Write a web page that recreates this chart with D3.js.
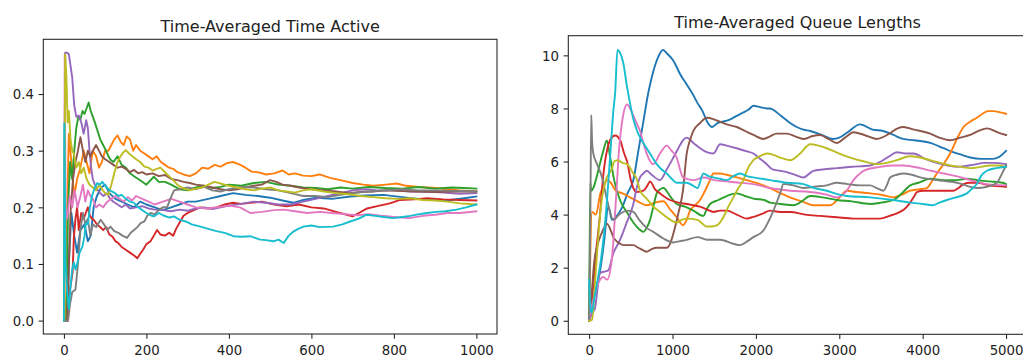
<!DOCTYPE html>
<html>
<head>
<meta charset="utf-8">
<script src="https://cdn.jsdelivr.net/npm/d3@7"></script>
<style>
  body { margin: 0; background: #fff; }
  svg { display: block; font-family: "DejaVu Sans", sans-serif; }
</style>
</head>
<body>
<svg id="chart" width="1023" height="356"></svg>
<script>
// tab10 colours, in series order
const colors = ["#1f77b4", "#ff7f0e", "#2ca02c", "#d62728", "#9467bd",
                "#8c564b", "#e377c2", "#7f7f7f", "#bcbd22", "#17becf"];

// ---- left panel: time-averaged time active, [t, value] ----
const activeBlue = [[0,0],[8,0],[12,0.1],[18,0.19],[25,0.15],[32,0.12],[40,0.16],[50,0.17],[58,0.14],[65,0.15],[72,0.2],[80,0.22],[90,0.235],[100,0.24],[110,0.225],[125,0.215],[140,0.21],[155,0.205],[170,0.2],[185,0.21],[200,0.205],[220,0.2],[240,0.195],[260,0.2],[280,0.205],[300,0.21],[320,0.21],[350,0.215],[380,0.22],[410,0.225],[440,0.222],[470,0.22],[500,0.217],[530,0.212],[556,0.208],[580,0.213],[612,0.217],[650,0.215],[694,0.219],[730,0.221],[775,0.222],[820,0.218],[860,0.215],[900,0.213],[936,0.213],[970,0.216],[1000,0.219]];
const activeOrange = [[0,0],[5,0],[8,0.2],[12,0.33],[18,0.28],[25,0.22],[32,0.25],[40,0.27],[48,0.3],[55,0.28],[62,0.26],[70,0.3],[78,0.29],[85,0.27],[92,0.28],[100,0.3],[108,0.3],[115,0.31],[122,0.32],[130,0.327],[138,0.315],[145,0.31],[152,0.325],[160,0.32],[168,0.3],[175,0.31],[185,0.3],[195,0.295],[205,0.29],[215,0.285],[225,0.29],[235,0.28],[245,0.275],[255,0.27],[265,0.268],[275,0.262],[290,0.258],[305,0.255],[320,0.26],[335,0.27],[350,0.268],[365,0.275],[380,0.272],[395,0.278],[410,0.28],[425,0.276],[440,0.27],[455,0.263],[470,0.262],[490,0.258],[510,0.26],[530,0.265],[545,0.258],[560,0.26],[580,0.256],[600,0.255],[620,0.258],[645,0.252],[670,0.248],[700,0.243],[726,0.24],[750,0.238],[780,0.24],[807,0.242],[830,0.238],[860,0.236],[903,0.234],[930,0.232],[960,0.23],[1000,0.228]];
const activeGreen = [[0,0],[6,0],[10,0.2],[15,0.28],[20,0.25],[25,0.3],[30,0.34],[35,0.36],[40,0.355],[45,0.37],[50,0.365],[55,0.375],[60,0.385],[65,0.37],[70,0.36],[75,0.35],[81,0.336],[88,0.32],[95,0.31],[102,0.3],[108,0.29],[113,0.284],[120,0.28],[130,0.29],[140,0.275],[150,0.27],[160,0.26],[170,0.255],[180,0.25],[190,0.245],[200,0.24],[218,0.254],[230,0.245],[245,0.245],[260,0.24],[280,0.232],[300,0.23],[320,0.235],[340,0.238],[360,0.234],[380,0.236],[400,0.24],[430,0.238],[460,0.243],[490,0.245],[520,0.24],[550,0.238],[580,0.235],[610,0.234],[640,0.232],[670,0.235],[700,0.233],[740,0.236],[780,0.234],[820,0.233],[860,0.236],[900,0.233],[940,0.235],[970,0.234],[1000,0.233]];
const activeRed = [[0,0],[10,0],[12,0.043],[18,0.07],[21,0.085],[24,0.146],[28,0.18],[32,0.2],[36,0.16],[42,0.19],[48,0.18],[53,0.19],[58,0.2],[63,0.185],[68,0.18],[72,0.178],[80,0.17],[88,0.165],[95,0.16],[103,0.165],[110,0.152],[118,0.148],[125,0.14],[130,0.138],[140,0.13],[150,0.125],[160,0.12],[170,0.115],[178,0.11],[185,0.118],[192,0.125],[200,0.135],[210,0.14],[218,0.15],[226,0.16],[234,0.152],[245,0.15],[255,0.155],[265,0.15],[272,0.162],[282,0.175],[290,0.185],[300,0.19],[315,0.195],[330,0.2],[350,0.198],[370,0.2],[390,0.205],[410,0.208],[430,0.206],[452,0.208],[480,0.21],[510,0.205],[540,0.202],[570,0.205],[600,0.2],[630,0.198],[660,0.192],[690,0.186],[700,0.184],[715,0.19],[735,0.198],[760,0.202],[790,0.207],[815,0.213],[850,0.214],[880,0.216],[920,0.214],[960,0.213],[1000,0.212]];
const activePurple = [[0,0],[3,0.473],[8,0.473],[12,0.47],[16,0.45],[20,0.43],[25,0.38],[30,0.36],[36,0.362],[42,0.35],[48,0.33],[54,0.354],[58,0.34],[62,0.3],[66,0.27],[70,0.25],[75,0.24],[80,0.232],[88,0.225],[96,0.22],[104,0.225],[112,0.215],[120,0.21],[130,0.205],[140,0.2],[150,0.205],[160,0.198],[175,0.2],[190,0.202],[205,0.198],[220,0.196],[240,0.195],[260,0.193],[280,0.196],[300,0.194],[320,0.198],[340,0.2],[360,0.197],[380,0.2],[400,0.203],[430,0.206],[460,0.21],[490,0.208],[520,0.205],[550,0.205],[580,0.21],[610,0.215],[640,0.22],[670,0.225],[700,0.23],[730,0.232],[760,0.23],[800,0.23],[840,0.228],[880,0.228],[920,0.226],[960,0.224],[1000,0.225]];
const activeBrown = [[0,0],[8,0],[12,0.1],[16,0.19],[22,0.25],[28,0.28],[34,0.3],[40,0.324],[46,0.3],[52,0.28],[58,0.3],[64,0.29],[70,0.3],[78,0.31],[85,0.3],[92,0.29],[100,0.285],[110,0.28],[120,0.275],[130,0.27],[140,0.272],[150,0.268],[160,0.262],[170,0.266],[180,0.26],[190,0.262],[200,0.258],[215,0.26],[230,0.255],[245,0.257],[260,0.25],[275,0.248],[290,0.245],[305,0.243],[320,0.24],[340,0.238],[360,0.235],[380,0.232],[400,0.23],[420,0.232],[440,0.235],[460,0.238],[480,0.24],[500,0.248],[515,0.245],[530,0.24],[550,0.238],[570,0.235],[600,0.232],[630,0.23],[660,0.228],[690,0.225],[720,0.227],[750,0.228],[780,0.23],[810,0.229],[850,0.228],[900,0.227],[950,0.228],[1000,0.228]];
const activePink = [[0,0],[2,0.47],[4,0.2],[8,0.18],[14,0.22],[20,0.2],[26,0.23],[33,0.2],[40,0.22],[46,0.24],[52,0.21],[58,0.23],[64,0.22],[70,0.215],[78,0.2],[86,0.205],[95,0.2],[105,0.21],[115,0.215],[125,0.22],[135,0.215],[145,0.21],[155,0.218],[165,0.212],[175,0.22],[190,0.215],[205,0.21],[220,0.205],[240,0.21],[260,0.215],[280,0.21],[300,0.205],[320,0.2],[345,0.198],[370,0.2],[400,0.203],[427,0.2],[452,0.19],[480,0.192],[510,0.195],[533,0.196],[560,0.193],[590,0.19],[620,0.192],[650,0.19],[680,0.188],[710,0.186],[740,0.188],[770,0.185],[800,0.183],[838,0.181],[870,0.185],[900,0.187],[930,0.19],[960,0.19],[1000,0.193]];
const activeGray = [[0,0],[10,0],[15,0.03],[20,0.05],[28,0.055],[34,0.1],[40,0.16],[46,0.19],[52,0.17],[58,0.18],[64,0.15],[70,0.17],[78,0.165],[89,0.178],[97,0.17],[105,0.16],[113,0.166],[122,0.158],[132,0.155],[142,0.15],[153,0.146],[162,0.155],[170,0.16],[178,0.165],[186,0.172],[195,0.175],[202,0.185],[210,0.19],[220,0.188],[230,0.195],[240,0.2],[250,0.2],[258,0.215],[267,0.23],[280,0.232],[300,0.235],[320,0.232],[340,0.236],[360,0.23],[380,0.228],[400,0.232],[430,0.236],[460,0.235],[490,0.232],[520,0.23],[550,0.225],[580,0.22],[610,0.22],[640,0.218],[670,0.222],[700,0.225],[740,0.228],[780,0.23],[820,0.232],[860,0.23],[900,0.23],[950,0.229],[1000,0.228]];
const activeOlive = [[0,0],[3,0.47],[6,0.43],[9,0.35],[12,0.37],[16,0.32],[20,0.3],[24,0.295],[30,0.27],[36,0.28],[42,0.26],[48,0.27],[55,0.25],[62,0.24],[70,0.235],[78,0.23],[86,0.24],[94,0.23],[100,0.225],[108,0.222],[115,0.24],[122,0.26],[130,0.28],[137,0.29],[144,0.297],[150,0.301],[158,0.295],[166,0.29],[175,0.285],[185,0.28],[195,0.272],[205,0.27],[215,0.265],[225,0.268],[234,0.27],[245,0.262],[255,0.255],[265,0.248],[275,0.24],[285,0.235],[295,0.232],[305,0.23],[320,0.233],[335,0.235],[350,0.24],[365,0.245],[380,0.242],[400,0.238],[420,0.235],[440,0.232],[460,0.23],[480,0.233],[500,0.235],[520,0.23],[540,0.228],[560,0.226],[580,0.23],[600,0.232],[630,0.228],[660,0.225],[690,0.223],[720,0.22],[750,0.218],[780,0.216],[810,0.215],[840,0.216],[870,0.213],[900,0.212],[930,0.21],[960,0.207],[1000,0.205]];
const activeCyan = [[0,0],[1,0.348],[4,0.1],[8,0.05],[12,0.02],[16,0.06],[20,0.09],[24,0.103],[28,0.09],[33,0.103],[38,0.12],[45,0.131],[50,0.15],[53,0.172],[58,0.17],[63,0.2],[68,0.22],[75,0.235],[81,0.243],[87,0.24],[93,0.245],[100,0.238],[108,0.232],[116,0.228],[124,0.225],[132,0.22],[140,0.222],[150,0.215],[160,0.21],[170,0.208],[180,0.2],[190,0.195],[200,0.19],[210,0.186],[218,0.184],[230,0.19],[240,0.186],[255,0.182],[267,0.184],[280,0.178],[295,0.175],[310,0.17],[331,0.166],[350,0.162],[370,0.158],[390,0.155],[411,0.149],[430,0.148],[452,0.149],[476,0.143],[490,0.142],[508,0.14],[520,0.143],[533,0.137],[545,0.15],[556,0.157],[568,0.162],[581,0.166],[600,0.168],[620,0.165],[653,0.166],[675,0.17],[694,0.175],[715,0.18],[734,0.187],[755,0.185],[775,0.183],[798,0.181],[820,0.183],[840,0.185],[855,0.187],[880,0.19],[903,0.192],[925,0.193],[952,0.196],[975,0.2],[1000,0.205]];

// ---- right panel: time-averaged queue lengths, [t, value] ----
const queueBlue = [[0,0],[40,0.8],[80,1.2],[132,1.9],[180,3.0],[230,4.3],[275,3.8],[320,3.9],[400,4.3],[460,4.8],[530,5.3],[590,6.4],[650,7.5],[710,8.6],[770,9.4],[830,9.95],[885,10.2],[940,10.05],[1010,9.8],[1090,9.3],[1170,8.9],[1240,8.55],[1300,8.2],[1360,7.9],[1415,7.5],[1475,7.3],[1540,7.45],[1600,7.5],[1660,7.55],[1730,7.65],[1790,7.75],[1850,7.85],[1910,7.95],[1970,8.1],[2050,8.05],[2130,8.0],[2170,8.0],[2250,7.85],[2330,7.65],[2410,7.45],[2490,7.3],[2570,7.2],[2650,7.15],[2790,7.0],[2925,6.85],[3000,6.9],[3100,7.1],[3250,7.4],[3300,7.35],[3400,7.2],[3525,7.15],[3650,7.0],[3765,6.85],[3900,6.8],[4090,6.7],[4250,6.5],[4365,6.35],[4470,6.25],[4570,6.15],[4700,6.1],[4845,6.1],[4930,6.2],[5000,6.4]];
const queueOrange = [[0,0],[35,4.1],[80,4.0],[135,4.8],[180,5.1],[215,5.3],[260,5.2],[320,4.9],[400,4.8],[490,4.65],[580,4.5],[690,4.35],[790,4.45],[890,4.5],[970,4.2],[1050,3.9],[1125,3.6],[1170,3.8],[1210,4.15],[1270,4.35],[1330,4.55],[1390,4.9],[1450,5.3],[1490,5.55],[1570,5.55],[1650,5.5],[1770,5.4],[1890,5.3],[2050,5.15],[2200,4.95],[2300,4.8],[2410,4.65],[2550,4.5],[2690,4.35],[2800,4.35],[2890,4.35],[2990,4.6],[3090,4.9],[3200,4.85],[3370,4.8],[3500,4.75],[3650,4.65],[3750,4.75],[3850,4.9],[3950,4.95],[4050,5.0],[4120,5.3],[4170,5.55],[4250,5.9],[4330,6.3],[4410,6.85],[4490,7.3],[4570,7.5],[4650,7.65],[4720,7.8],[4780,7.9],[4850,7.9],[4930,7.85],[5000,7.8]];
const queueGreen = [[0,0],[12,5.2],[25,4.9],[50,5.0],[80,5.3],[120,5.8],[170,6.4],[213,6.79],[250,6.2],[300,5.3],[370,4.55],[450,4.1],[530,3.7],[600,3.45],[650,3.35],[690,3.5],[730,3.8],[770,4.3],[810,4.8],[850,4.95],[890,5.0],[970,4.7],[1050,4.4],[1150,4.3],[1250,4.15],[1370,3.95],[1410,4.2],[1450,4.4],[1550,4.55],[1650,4.7],[1770,4.8],[1870,4.7],[1970,4.6],[2100,4.55],[2170,4.45],[2300,4.4],[2450,4.35],[2550,4.5],[2650,4.7],[2800,4.65],[2970,4.55],[3150,4.5],[3370,4.4],[3500,4.45],[3650,4.55],[3750,4.8],[3850,5.1],[3950,5.2],[4090,5.35],[4250,5.3],[4410,5.3],[4530,5.35],[4650,5.3],[4800,5.25],[4960,5.2],[5000,5.15]];
const queueRed = [[0,0],[40,1.0],[80,2.5],[130,4.0],[170,5.5],[220,6.5],[270,6.9],[312,6.98],[372,6.8],[420,6.3],[455,6.0],[500,5.3],[530,5.0],[570,4.85],[650,4.9],[700,5.1],[730,5.25],[790,4.95],[850,4.8],[970,4.55],[1070,4.45],[1170,4.4],[1250,4.35],[1330,4.3],[1410,4.2],[1490,4.1],[1570,4.15],[1650,4.15],[1770,4.0],[1890,3.85],[1950,3.9],[2010,3.95],[2090,4.05],[2170,4.15],[2290,4.1],[2410,4.1],[2590,4.0],[2770,3.95],[2970,3.9],[3170,3.85],[3350,3.85],[3490,3.85],[3600,3.95],[3690,4.05],[3780,4.2],[3850,4.45],[3900,4.7],[3930,4.85],[4010,4.9],[4090,4.9],[4250,4.9],[4370,4.9],[4430,5.0],[4490,5.15],[4570,5.2],[4650,5.2],[4800,5.1],[5000,5.05]];
const queuePurple = [[0,0],[40,0.3],[72,0.5],[100,1.2],[130,1.8],[180,1.85],[230,1.9],[290,2.55],[330,2.8],[370,3.05],[450,3.7],[530,4.4],[570,5.0],[610,5.4],[650,5.55],[690,5.65],[750,5.5],[850,5.3],[930,5.7],[1010,6.15],[1070,6.5],[1125,6.8],[1170,6.9],[1250,6.7],[1330,6.5],[1410,6.35],[1490,6.3],[1570,6.65],[1650,6.6],[1770,6.5],[1870,6.4],[1970,6.3],[2050,6.1],[2130,5.9],[2200,5.7],[2290,5.65],[2370,5.6],[2470,5.5],[2570,5.4],[2690,5.65],[2800,5.7],[2970,5.75],[3150,5.8],[3370,5.85],[3500,6.0],[3600,6.2],[3690,6.35],[3800,6.3],[3890,6.3],[4030,6.1],[4170,5.95],[4300,5.85],[4410,5.8],[4550,5.85],[4650,5.9],[4730,5.95],[4850,5.95],[5000,5.9]];
const queueBrown = [[0,0],[30,1.0],[60,2.2],[95,2.8],[150,3.3],[215,3.65],[260,3.4],[290,3.15],[350,2.95],[410,2.85],[470,2.85],[530,2.85],[590,2.75],[650,2.65],[690,2.6],[750,2.7],[810,2.75],[870,2.75],[930,2.75],[970,2.9],[1020,3.4],[1070,4.05],[1125,4.9],[1170,6.3],[1210,6.8],[1250,7.15],[1330,7.45],[1410,7.65],[1490,7.6],[1570,7.5],[1650,7.4],[1770,7.3],[1870,7.15],[1970,7.0],[2090,6.85],[2170,6.95],[2250,7.05],[2370,7.05],[2470,6.95],[2570,6.85],[2670,6.95],[2770,7.0],[2870,6.85],[2970,6.7],[3070,6.9],[3170,7.1],[3300,7.0],[3450,6.85],[3600,7.05],[3700,7.25],[3770,7.3],[3900,7.2],[4090,7.05],[4200,6.9],[4330,6.8],[4450,6.9],[4570,7.0],[4670,7.15],[4770,7.25],[4900,7.1],[5000,7.0]];
const queuePink = [[0,0],[50,0.8],[95,1.3],[170,1.65],[215,1.55],[275,2.4],[320,4.5],[360,6.5],[400,7.6],[455,8.15],[520,7.8],[575,7.4],[610,7.15],[650,6.7],[690,6.3],[770,5.9],[850,6.3],[930,6.6],[990,6.4],[1050,6.15],[1090,5.7],[1125,5.4],[1250,5.3],[1370,5.4],[1500,5.3],[1650,5.25],[1800,5.2],[1970,5.15],[2170,5.0],[2410,4.9],[2650,4.85],[2850,4.75],[2970,4.65],[3090,4.9],[3170,5.3],[3230,5.5],[3290,5.65],[3490,5.8],[3650,5.85],[3770,5.85],[3970,5.75],[4100,5.65],[4250,5.55],[4400,5.45],[4570,5.3],[4770,5.15],[5000,5.1]];
const queueGray = [[0,0],[15,4.0],[25,7.75],[35,6.8],[50,6.3],[95,5.9],[155,5.4],[215,4.55],[290,3.8],[360,4.0],[455,4.15],[530,4.1],[600,3.8],[690,3.5],[770,3.35],[890,3.1],[1010,2.95],[1090,3.0],[1170,3.05],[1300,3.15],[1415,3.05],[1570,3.05],[1730,2.9],[1810,2.85],[1900,3.0],[1970,3.15],[2090,3.4],[2160,3.8],[2210,4.15],[2260,4.55],[2290,4.8],[2330,5.15],[2450,5.1],[2570,5.0],[2700,5.05],[2850,5.1],[2970,5.2],[3100,5.15],[3250,5.1],[3370,5.1],[3450,5.0],[3530,4.9],[3570,5.1],[3610,5.4],[3690,5.5],[3770,5.55],[3870,5.5],[3970,5.4],[4170,5.3],[4410,5.2],[4650,5.0],[4770,5.05],[4890,5.2],[4960,5.6],[5000,5.85]];
const queueOlive = [[0,0],[35,0.04],[72,1.5],[110,3.2],[155,4.65],[200,5.3],[250,5.6],[275,5.75],[300,6.0],[340,6.05],[400,5.95],[455,5.9],[520,5.6],[575,5.3],[610,4.9],[690,4.6],[770,4.3],[850,4.1],[930,3.9],[1050,3.7],[1110,3.8],[1170,3.85],[1300,3.8],[1410,3.55],[1470,3.55],[1535,3.6],[1610,3.9],[1670,4.3],[1730,4.65],[1790,5.0],[1850,5.3],[1890,5.65],[1970,6.05],[2050,6.2],[2130,6.3],[2210,6.25],[2290,6.15],[2410,6.05],[2530,6.3],[2650,6.65],[2750,6.6],[2850,6.5],[3000,6.3],[3130,6.15],[3300,6.0],[3450,5.9],[3570,5.95],[3690,6.05],[3850,6.2],[3970,6.15],[4090,6.05],[4210,5.95],[4330,5.85],[4450,5.8],[4570,5.75],[4700,5.8],[4810,5.85],[4900,5.85],[5000,5.8]];
const queueCyan = [[0,1.55],[15,0.5],[30,0.3],[60,0.8],[100,1.5],[150,2.5],[200,4.0],[250,6.1],[290,7.9],[312,8.6],[340,10.2],[370,10.1],[410,9.7],[450,8.9],[490,8.2],[530,7.6],[575,7.15],[630,6.8],[690,6.5],[750,6.2],[810,5.9],[870,5.7],[930,5.55],[990,5.35],[1050,5.2],[1110,5.2],[1170,5.2],[1240,5.1],[1300,5.0],[1370,5.55],[1430,5.45],[1490,5.4],[1570,5.35],[1650,5.3],[1730,5.45],[1810,5.55],[1890,5.45],[1970,5.4],[2070,5.35],[2170,5.3],[2370,5.2],[2570,5.15],[2700,5.0],[2850,4.9],[3000,4.75],[3090,4.7],[3370,4.65],[3650,4.55],[3850,4.45],[4000,4.4],[4120,4.35],[4200,4.45],[4290,4.55],[4400,4.65],[4530,4.8],[4600,5.0],[4650,5.15],[4700,5.45],[4770,5.65],[4880,5.75],[5000,5.8]];

const activeSeries = [activeBlue, activeOrange, activeGreen, activeRed, activePurple,
                      activeBrown, activePink, activeGray, activeOlive, activeCyan];
const queueSeries = [queueBlue, queueOrange, queueGreen, queueRed, queuePurple,
                     queueBrown, queuePink, queueGray, queueOlive, queueCyan];

const activeXTicks = [0, 200, 400, 600, 800, 1000];
const activeYTicks = [0, 0.1, 0.2, 0.3, 0.4];
const queueXTicks = [0, 1000, 2000, 3000, 4000, 5000];
const queueYTicks = [0, 2, 4, 6, 8, 10];

const svg = d3.select("#chart");
const tickLen = 4.7, tickPad = 4.7;

function drawPanel(opts) {
  const x = d3.scaleLinear().domain(opts.xDomain).range([opts.left, opts.right]);
  const y = d3.scaleLinear().domain(opts.yDomain).range([opts.bottom, opts.top]);
  const g = svg.append("g");

  // lines, drawn in series order like matplotlib
  const line = d3.line()
    .x(d => x(d[0]))
    .y(d => y(d[1]))
    .curve(opts.curve);
  g.selectAll("path.series")
    .data(opts.series)
    .enter()
    .append("path")
    .attr("class", "series")
    .attr("d", line)
    .attr("fill", "none")
    .attr("stroke", (d, i) => colors[i])
    .attr("stroke-width", 1.9)
    .attr("stroke-linejoin", "round")
    .attr("stroke-linecap", "square");

  // x axis
  const xAxis = g.append("g")
    .attr("transform", "translate(0," + opts.bottom + ")")
    .call(d3.axisBottom(x).tickValues(opts.xTicks).tickFormat(d3.format("d"))
      .tickSize(tickLen).tickPadding(tickPad));
  xAxis.select(".domain").remove();
  xAxis.selectAll("line").attr("stroke", "#222").attr("stroke-width", 1.05);
  xAxis.selectAll("text")
    .attr("dy", null)
    .attr("y", 21)
    .attr("fill", "#222")
    .style("font-size", "13.3px")
    .style("font-family", "DejaVu Sans");

  // y axis
  const yAxis = g.append("g")
    .attr("transform", "translate(" + opts.left + ",0)")
    .call(d3.axisLeft(y).tickValues(opts.yTicks).tickFormat(opts.yFormat)
      .tickSize(tickLen).tickPadding(tickPad));
  yAxis.select(".domain").remove();
  yAxis.selectAll("line").attr("stroke", "#222").attr("stroke-width", 1.05);
  yAxis.selectAll("text")
    .attr("dy", "0.36em")
    .attr("fill", "#222")
    .style("font-size", "13.3px")
    .style("font-family", "DejaVu Sans");

  // frame
  g.append("rect")
    .attr("x", opts.left)
    .attr("y", opts.top)
    .attr("width", opts.right - opts.left)
    .attr("height", opts.bottom - opts.top)
    .attr("fill", "none")
    .attr("stroke", "#222")
    .attr("stroke-width", 1.05);

  // title
  g.append("text")
    .attr("x", (opts.left + opts.right) / 2)
    .attr("y", opts.top - 7.5)
    .attr("text-anchor", "middle")
    .attr("fill", "#222")
    .style("font-size", "16px")
    .text(opts.title);
}

drawPanel({
  title: "Time-Averaged Time Active",
  series: activeSeries,
  left: 43.3, right: 497, top: 39.3, bottom: 334,
  xDomain: [-50, 1050], yDomain: [-0.02365, 0.49665],
  xTicks: activeXTicks, yTicks: activeYTicks,
  yFormat: d3.format(".1f"),
  curve: d3.curveLinear
});

drawPanel({
  title: "Time-Averaged Queue Lengths",
  series: queueSeries,
  left: 568.3, right: 1026.9, top: 35.7, bottom: 334.3,
  xDomain: [-250, 5250], yDomain: [-0.51, 10.74],
  xTicks: queueXTicks, yTicks: queueYTicks,
  yFormat: d3.format("d"),
  curve: d3.curveMonotoneX
});
</script>
</body>
</html>
